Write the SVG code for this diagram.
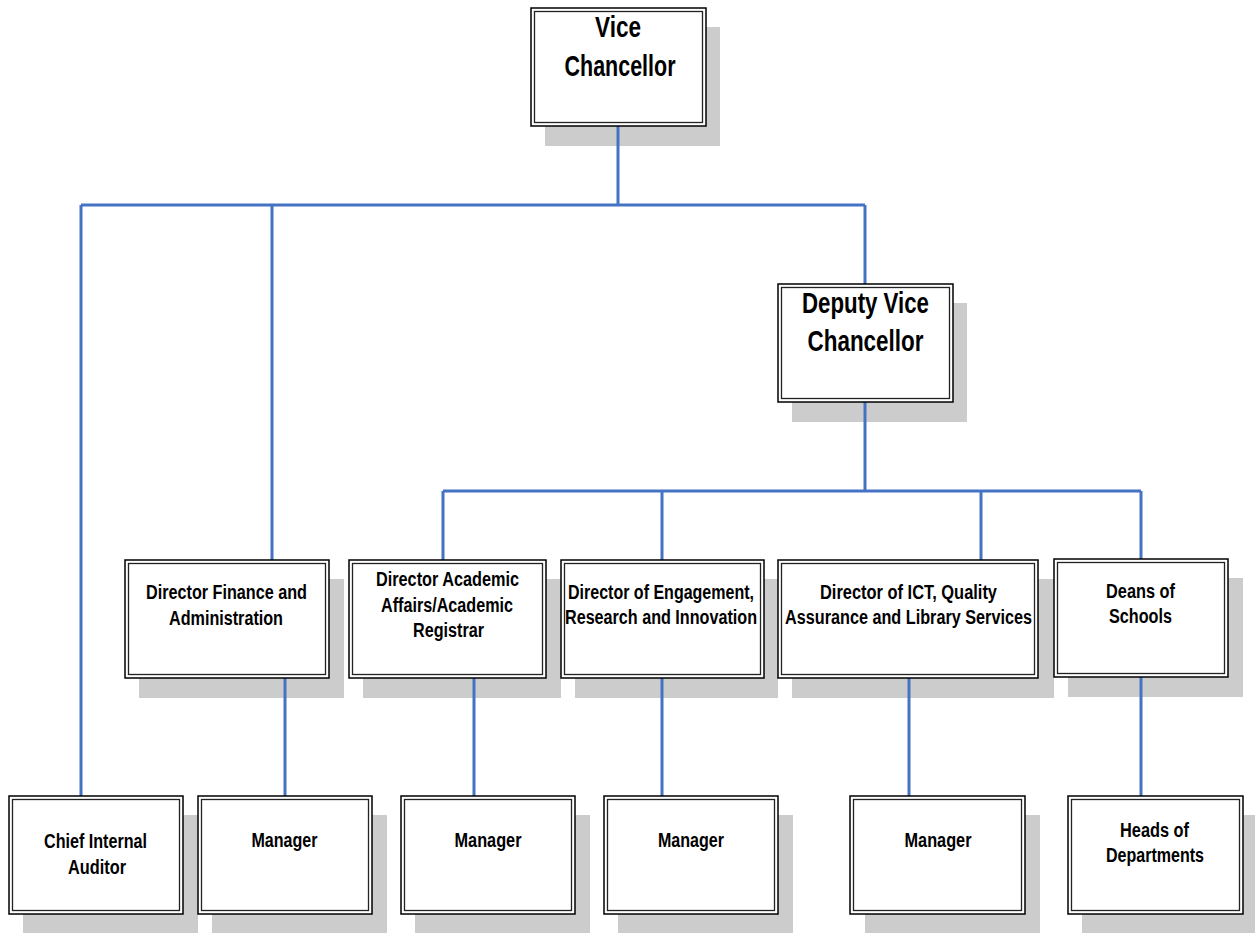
<svg xmlns="http://www.w3.org/2000/svg" width="1255" height="933" viewBox="0 0 1255 933">
<style>
.sh{fill:#cccccc;stroke:none}
.ob{fill:#ffffff;stroke:#000000;stroke-width:1.5}
.ib{fill:none;stroke:#222222;stroke-width:1.3}
.c{fill:none;stroke:#4472c4;stroke-width:3}
text{font-family:"Liberation Sans",Arial,sans-serif;font-weight:bold;fill:#000000;text-anchor:middle}
.s{font-size:20px}
.b{font-size:30px}
</style>
<rect width="1255" height="933" fill="#ffffff"/>
<g id="shadows">
<rect class="sh" x="545" y="27" width="175" height="119"/>
<rect class="sh" x="792" y="303" width="175" height="119"/>
<rect class="sh" x="139" y="579" width="205" height="119"/>
<rect class="sh" x="363" y="579" width="198" height="119"/>
<rect class="sh" x="575" y="579" width="203" height="119"/>
<rect class="sh" x="792" y="579" width="262" height="119"/>
<rect class="sh" x="1068" y="578" width="175" height="119"/>
<rect class="sh" x="23" y="815" width="175" height="119"/>
<rect class="sh" x="212" y="815" width="175" height="119"/>
<rect class="sh" x="415" y="815" width="175" height="119"/>
<rect class="sh" x="618" y="815" width="175" height="119"/>
<rect class="sh" x="865" y="815" width="175" height="119"/>
<rect class="sh" x="1082" y="815" width="175" height="119"/>
</g>
<g id="connectors">
<path class="c" d="M618,126 V205 M81,205 H865 M81,205 V796 M272,205 V560 M865,205 V284"/>
<path class="c" d="M865,402 V491 M443,491 H1141 M443,491 V560 M662,491 V560 M981,491 V560 M1141,491 V559"/>
<path class="c" d="M285,678 V796 M474,678 V796 M662,678 V796 M909,678 V796 M1141,677 V796"/>
</g>
<g id="vc">
<rect class="ob" x="531" y="8" width="175" height="118"/>
<rect class="ib" x="534.5" y="11.5" width="168" height="111"/>
<text class="b" x="618" y="37" textLength="46" lengthAdjust="spacingAndGlyphs">Vice</text>
<text class="b" x="620" y="76" textLength="111" lengthAdjust="spacingAndGlyphs">Chancellor</text>
</g>
<g id="dvc">
<rect class="ob" x="778" y="284" width="175" height="118"/>
<rect class="ib" x="781.5" y="287.5" width="168" height="111"/>
<text class="b" x="865.5" y="313" textLength="127" lengthAdjust="spacingAndGlyphs">Deputy Vice</text>
<text class="b" x="865.5" y="351" textLength="116" lengthAdjust="spacingAndGlyphs">Chancellor</text>
</g>
<g id="dfa">
<rect class="ob" x="125" y="560" width="204" height="118"/>
<rect class="ib" x="128.5" y="563.5" width="197" height="111"/>
<text class="s" x="226.5" y="599" textLength="161" lengthAdjust="spacingAndGlyphs">Director Finance and</text>
<text class="s" x="226" y="625" textLength="114" lengthAdjust="spacingAndGlyphs">Administration</text>
</g>
<g id="daa">
<rect class="ob" x="349" y="560" width="197" height="118"/>
<rect class="ib" x="352.5" y="563.5" width="190" height="111"/>
<text class="s" x="447.5" y="586" textLength="143" lengthAdjust="spacingAndGlyphs">Director Academic</text>
<text class="s" x="447" y="612" textLength="132" lengthAdjust="spacingAndGlyphs">Affairs/Academic</text>
<text class="s" x="448.5" y="637" textLength="71" lengthAdjust="spacingAndGlyphs">Registrar</text>
</g>
<g id="deri">
<rect class="ob" x="561" y="560" width="203" height="118"/>
<rect class="ib" x="564.5" y="563.5" width="196" height="111"/>
<text class="s" x="661" y="599" textLength="186" lengthAdjust="spacingAndGlyphs">Director of Engagement,</text>
<text class="s" x="661" y="624" textLength="192" lengthAdjust="spacingAndGlyphs">Research and Innovation</text>
</g>
<g id="dict">
<rect class="ob" x="778" y="560" width="260" height="118"/>
<rect class="ib" x="781.5" y="563.5" width="253" height="111"/>
<text class="s" x="908.5" y="599" textLength="177" lengthAdjust="spacingAndGlyphs">Director of ICT, Quality</text>
<text class="s" x="908.5" y="624" textLength="247" lengthAdjust="spacingAndGlyphs">Assurance and Library Services</text>
</g>
<g id="deans">
<rect class="ob" x="1054" y="559" width="174" height="118"/>
<rect class="ib" x="1057.5" y="562.5" width="167" height="111"/>
<text class="s" x="1140.5" y="598" textLength="69" lengthAdjust="spacingAndGlyphs">Deans of</text>
<text class="s" x="1140.5" y="623" textLength="63" lengthAdjust="spacingAndGlyphs">Schools</text>
</g>
<g id="cia">
<rect class="ob" x="9" y="796" width="174" height="118"/>
<rect class="ib" x="12.5" y="799.5" width="167" height="111"/>
<text class="s" x="95.5" y="848" textLength="103" lengthAdjust="spacingAndGlyphs">Chief Internal</text>
<text class="s" x="97" y="874" textLength="58" lengthAdjust="spacingAndGlyphs">Auditor</text>
</g>
<g id="mgr1">
<rect class="ob" x="198" y="796" width="174" height="118"/>
<rect class="ib" x="201.5" y="799.5" width="167" height="111"/>
<text class="s" x="284.5" y="847" textLength="66" lengthAdjust="spacingAndGlyphs">Manager</text>
</g>
<g id="mgr2">
<rect class="ob" x="401" y="796" width="174" height="118"/>
<rect class="ib" x="404.5" y="799.5" width="167" height="111"/>
<text class="s" x="488" y="847" textLength="67" lengthAdjust="spacingAndGlyphs">Manager</text>
</g>
<g id="mgr3">
<rect class="ob" x="604" y="796" width="174" height="118"/>
<rect class="ib" x="607.5" y="799.5" width="167" height="111"/>
<text class="s" x="691" y="847" textLength="66" lengthAdjust="spacingAndGlyphs">Manager</text>
</g>
<g id="mgr4">
<rect class="ob" x="850" y="796" width="175" height="118"/>
<rect class="ib" x="853.5" y="799.5" width="168" height="111"/>
<text class="s" x="938" y="847" textLength="67" lengthAdjust="spacingAndGlyphs">Manager</text>
</g>
<g id="hod">
<rect class="ob" x="1068" y="796" width="175" height="118"/>
<rect class="ib" x="1071.5" y="799.5" width="168" height="111"/>
<text class="s" x="1154.5" y="837" textLength="69" lengthAdjust="spacingAndGlyphs">Heads of</text>
<text class="s" x="1155" y="862" textLength="98" lengthAdjust="spacingAndGlyphs">Departments</text>
</g>
</svg>
